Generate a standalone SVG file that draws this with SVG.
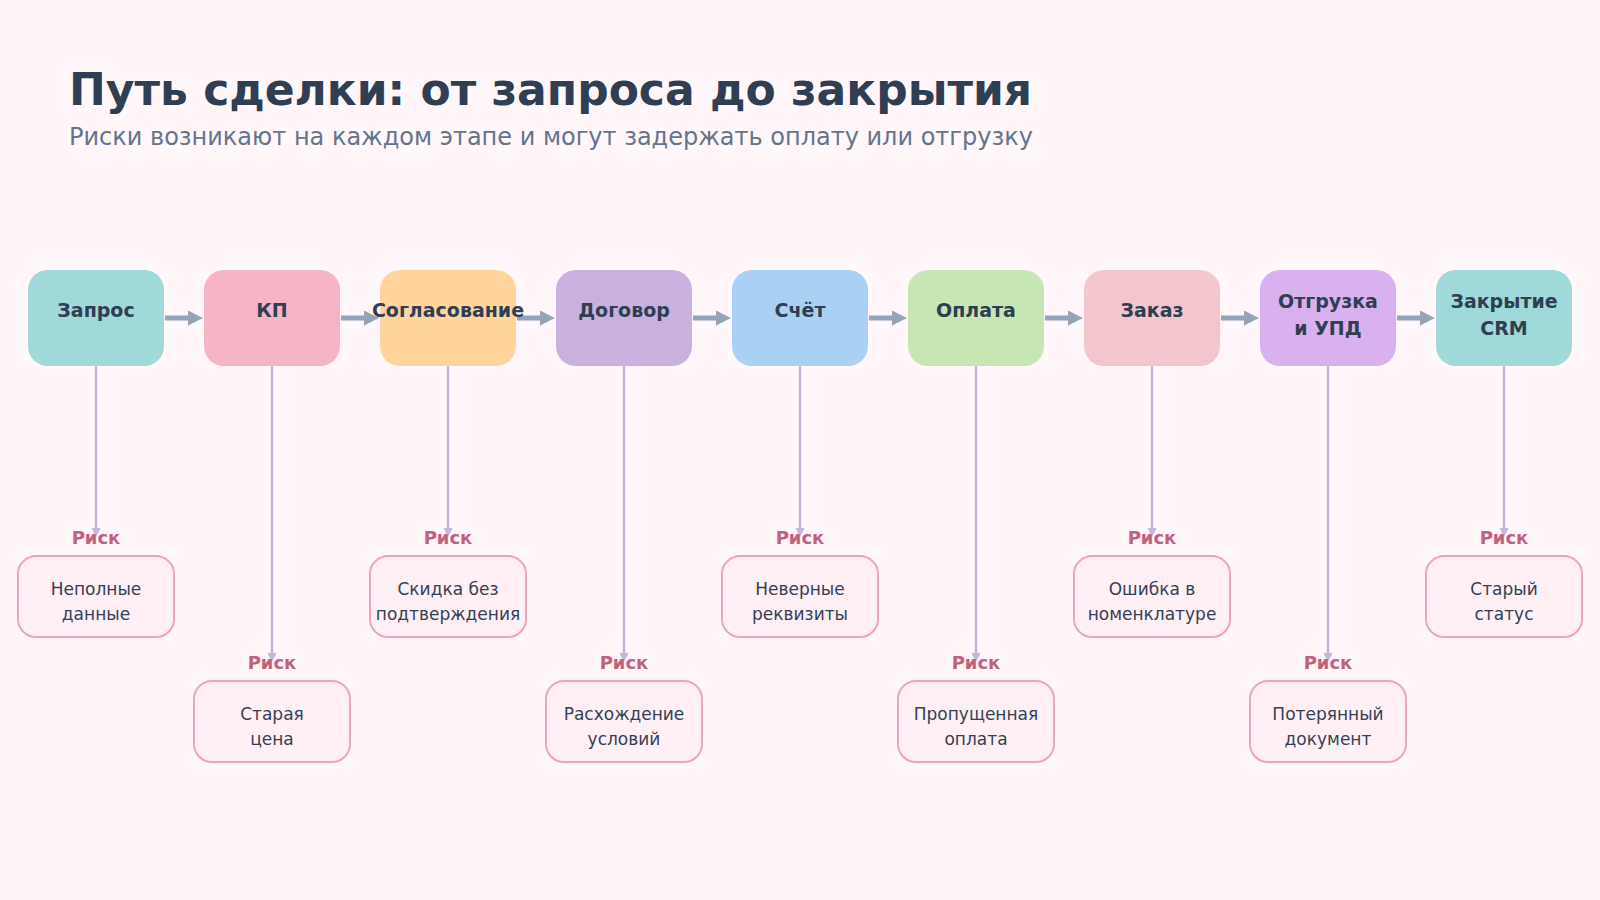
<svg xmlns="http://www.w3.org/2000/svg" width="1600" height="900" viewBox="0 0 1600 900">
<style>
text{font-family:"DejaVu Sans","Noto Sans",sans-serif}
.title{font-size:44px;font-weight:bold;fill:#2f3e52}
.sub{font-size:24px;fill:#64748b}
.nl{font-size:19px;font-weight:bold;fill:#2f3e52;text-anchor:middle}
.flow{stroke:#94a3b8;stroke-width:5;fill:none}
.fhead{fill:#94a3b8}
.risk-line{stroke:#c8b3dd;stroke-width:2.5;fill:none}
.rhead{fill:#c8b3dd}
.rbox{fill:#fff0f5;stroke:#f1a3b7;stroke-width:2}
.rlab{font-size:18px;font-weight:bold;fill:#c0627f;text-anchor:middle}
.rt{font-size:17px;fill:#334155;text-anchor:middle}
</style>
<rect width="1600" height="900" fill="#fff7fa"/>
<text class="title" x="69" y="105">Путь сделки: от запроса до закрытия</text>
<text class="sub" x="69" y="145">Риски возникают на каждом этапе и могут задержать оплату или отгрузку</text>

<g id="connectors">
  <path class="flow" d="M165 318H190M341 318H366M517 318H542M693 318H718M869 318H894M1045 318H1070M1221 318H1246M1397 318H1422"/>
  <g class="fhead">
    <polygon points="188,310.5 203,318 188,325.5"/>
    <polygon points="364,310.5 379,318 364,325.5"/>
    <polygon points="540,310.5 555,318 540,325.5"/>
    <polygon points="716,310.5 731,318 716,325.5"/>
    <polygon points="892,310.5 907,318 892,325.5"/>
    <polygon points="1068,310.5 1083,318 1068,325.5"/>
    <polygon points="1244,310.5 1259,318 1244,325.5"/>
    <polygon points="1420,310.5 1435,318 1420,325.5"/>
  </g>
  <path class="risk-line" d="M96 366V529M272 366V654M448 366V529M624 366V654M800 366V529M976 366V654M1152 366V529M1328 366V654M1504 366V529"/>
  <g class="rhead">
    <polygon points="91.5,528 100.5,528 96,537"/>
    <polygon points="267.5,653 276.5,653 272,662"/>
    <polygon points="443.5,528 452.5,528 448,537"/>
    <polygon points="619.5,653 628.5,653 624,662"/>
    <polygon points="795.5,528 804.5,528 800,537"/>
    <polygon points="971.5,653 980.5,653 976,662"/>
    <polygon points="1147.5,528 1156.5,528 1152,537"/>
    <polygon points="1323.5,653 1332.5,653 1328,662"/>
    <polygon points="1499.5,528 1508.5,528 1504,537"/>
  </g>
</g>

<g id="stage-1"><rect x="28" y="270" width="136" height="96" rx="20" fill="#9fd9d9"/><text class="nl" x="96" y="317">Запрос</text></g>
<g id="stage-2"><rect x="204" y="270" width="136" height="96" rx="20" fill="#f6b5c6"/><text class="nl" x="272" y="317">КП</text></g>
<g id="stage-3"><rect x="380" y="270" width="136" height="96" rx="20" fill="#ffd59d"/><text class="nl" x="448" y="317">Согласование</text></g>
<g id="stage-4"><rect x="556" y="270" width="136" height="96" rx="20" fill="#c9b0df"/><text class="nl" x="624" y="317">Договор</text></g>
<g id="stage-5"><rect x="732" y="270" width="136" height="96" rx="20" fill="#a9d1f3"/><text class="nl" x="800" y="317">Счёт</text></g>
<g id="stage-6"><rect x="908" y="270" width="136" height="96" rx="20" fill="#c6e6b4"/><text class="nl" x="976" y="317">Оплата</text></g>
<g id="stage-7"><rect x="1084" y="270" width="136" height="96" rx="20" fill="#f3c5cc"/><text class="nl" x="1152" y="317">Заказ</text></g>
<g id="stage-8"><rect x="1260" y="270" width="136" height="96" rx="20" fill="#d9b1ef"/><text class="nl" x="1328" y="308">Отгрузка</text><text class="nl" x="1328" y="335">и УПД</text></g>
<g id="stage-9"><rect x="1436" y="270" width="136" height="96" rx="20" fill="#9fd9d9"/><text class="nl" x="1504" y="308">Закрытие</text><text class="nl" x="1504" y="335">CRM</text></g>

<g id="risk-1"><text class="rlab" x="96" y="543.5">Риск</text><rect class="rbox" x="18" y="556" width="156" height="81" rx="18"/><text class="rt" x="96" y="595">Неполные</text><text class="rt" x="96" y="620">данные</text></g>
<g id="risk-2"><text class="rlab" x="272" y="668.5">Риск</text><rect class="rbox" x="194" y="681" width="156" height="81" rx="18"/><text class="rt" x="272" y="720">Старая</text><text class="rt" x="272" y="745">цена</text></g>
<g id="risk-3"><text class="rlab" x="448" y="543.5">Риск</text><rect class="rbox" x="370" y="556" width="156" height="81" rx="18"/><text class="rt" x="448" y="595">Скидка без</text><text class="rt" x="448" y="620">подтверждения</text></g>
<g id="risk-4"><text class="rlab" x="624" y="668.5">Риск</text><rect class="rbox" x="546" y="681" width="156" height="81" rx="18"/><text class="rt" x="624" y="720">Расхождение</text><text class="rt" x="624" y="745">условий</text></g>
<g id="risk-5"><text class="rlab" x="800" y="543.5">Риск</text><rect class="rbox" x="722" y="556" width="156" height="81" rx="18"/><text class="rt" x="800" y="595">Неверные</text><text class="rt" x="800" y="620">реквизиты</text></g>
<g id="risk-6"><text class="rlab" x="976" y="668.5">Риск</text><rect class="rbox" x="898" y="681" width="156" height="81" rx="18"/><text class="rt" x="976" y="720">Пропущенная</text><text class="rt" x="976" y="745">оплата</text></g>
<g id="risk-7"><text class="rlab" x="1152" y="543.5">Риск</text><rect class="rbox" x="1074" y="556" width="156" height="81" rx="18"/><text class="rt" x="1152" y="595">Ошибка в</text><text class="rt" x="1152" y="620">номенклатуре</text></g>
<g id="risk-8"><text class="rlab" x="1328" y="668.5">Риск</text><rect class="rbox" x="1250" y="681" width="156" height="81" rx="18"/><text class="rt" x="1328" y="720">Потерянный</text><text class="rt" x="1328" y="745">документ</text></g>
<g id="risk-9"><text class="rlab" x="1504" y="543.5">Риск</text><rect class="rbox" x="1426" y="556" width="156" height="81" rx="18"/><text class="rt" x="1504" y="595">Старый</text><text class="rt" x="1504" y="620">статус</text></g>
</svg>
